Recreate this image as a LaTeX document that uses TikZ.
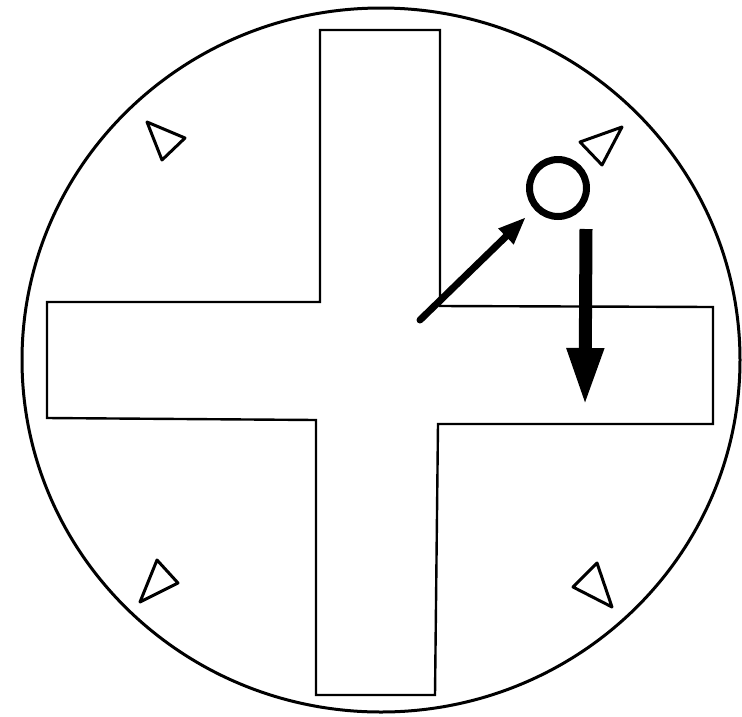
\documentclass[tikz,border=0pt]{standalone}
\usetikzlibrary{arrows.meta}
\begin{document}
\begin{tikzpicture}[x=1pt,y=-1pt,
  outline/.style={draw=black,line width=2.4pt,line join=miter},
  marker/.style={draw=black,line width=3pt,line join=round},
  ring/.style={circle,draw=black,line width=7pt,minimum size=57pt,inner sep=0pt}]
\useasboundingbox[fill=white] (0,0) rectangle (742,716);
% outer disc
\draw[line width=3pt] (381,360) ellipse [x radius=359, y radius=352];
% cross
\draw[outline] (320,30) -- (440,30) -- (440,306) -- (713,307) -- (713,424)
  -- (438,424) -- (435,695) -- (316,695) -- (316,420) -- (47,418)
  -- (47,302) -- (320,302) -- cycle;
% small triangles
\draw[marker] (147,122) -- (185,138) -- (162,160) -- cycle;
\draw[marker] (157,560) -- (178,583) -- (140,602) -- cycle;
\draw[marker] (597,563) -- (573,587) -- (612,607) -- cycle;
\draw[marker] (580,142) -- (622,127) -- (602,165) -- cycle;
% small ring
\node[ring] (ball) at (558,188) {};
% arrows
\coordinate (a1s) at (420,320);
\coordinate (a1e) at (526,217);
\draw[line width=7pt,line cap=round,-{Triangle[length=28pt,width=20pt]}] (a1s) -- (a1e);
\coordinate (a2s) at (586,229);
\coordinate (a2e) at (585,406);
\draw[line width=13pt,-{Triangle[length=58pt,width=34pt]}] (a2s) -- (a2e);
\end{tikzpicture}
\end{document}
